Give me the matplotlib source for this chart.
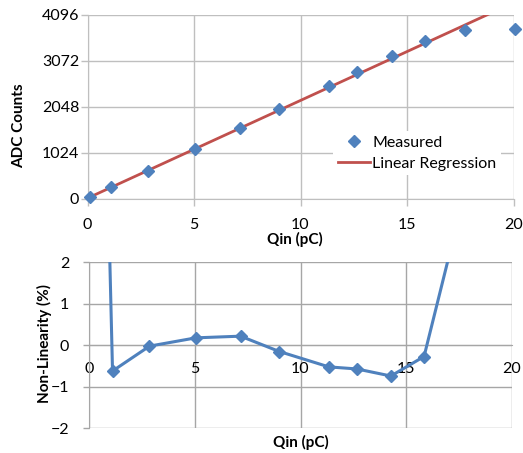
import matplotlib
matplotlib.use("Agg")
import matplotlib.pyplot as plt
from matplotlib.lines import Line2D

plt.rcParams['font.family'] = ['Lato', 'DejaVu Sans']
plt.rcParams['font.size'] = 11.5

# datos
qin = [0.12, 1.10, 2.85, 5.05, 7.16, 9.00, 11.34, 12.67, 14.28, 15.85, 17.74, 20.08]
adc = [38, 260, 622, 1110, 1583, 1991, 2509, 2820, 3175, 3508, 3752, 3781]
no_lineal = [19.7, -0.62, -0.02, 0.18, 0.22, -0.15, -0.52, -0.57, -0.74, -0.27, 3.6, 8.0]

# extremos de la recta de regresion
ajuste_x = [0.12, 20.08]
ajuste_y = [44, 4375]

x_ticks = [0, 5, 10, 15, 20]
adc_ticks = [0, 1024, 2048, 3072, 4096]
nl_ticks = [-2, -1, 0, 1, 2]

azul = '#4F81BD'
rojo = '#C0504D'
gris = '#BFBFBF'
gris2 = '#A6A6A6'
tam_eje = 11

W, H = 523, 453
fig = plt.figure(figsize=(W / 100, H / 100), dpi=100)

# panel superior
ax1 = fig.add_axes([87.5 / W, 1 - 199 / H, 426 / W, 184.5 / H])
ax1.plot(ajuste_x, ajuste_y, color=rojo, lw=2.0, zorder=3)
ax1.plot(qin, adc, 'D', color=azul, ms=6, clip_on=False, zorder=4)
ax1.set_xlim(0, 20)
ax1.set_ylim(0, 4096)
ax1.set_xticks(x_ticks)
ax1.set_yticks(adc_ticks)
ax1.grid(True, color=gris, lw=1)
for s in ax1.spines.values():
    s.set_visible(False)
ax1.spines['left'].set_visible(True)
ax1.spines['left'].set_color(gris)
ax1.spines['bottom'].set_visible(True)
ax1.spines['bottom'].set_color(gris)
ax1.tick_params(axis='both', color=gris, length=5, width=1)
ax1.tick_params(axis='y', pad=1)
ax1.tick_params(axis='x', pad=9)
ax1.set_ylabel('ADC Counts', fontweight='bold', fontsize=tam_eje, va='center', ha='center')
ax1.yaxis.set_label_coords(-0.161, 0.396)
ax1.set_xlabel('Qin (pC)', fontweight='bold', fontsize=tam_eje, va='center', ha='center')
ax1.xaxis.set_label_coords(0.486, -0.217)

handles = [Line2D([], [], ls='none', marker='D', color=azul, ms=6),
           Line2D([], [], color=rojo, lw=2.0)]
leg = ax1.legend(handles, ['Measured', 'Linear Regression'], loc='upper left',
                 bbox_to_anchor=(0.576, 0.368), frameon=True, fancybox=False,
                 edgecolor='none', facecolor='white', framealpha=1,
                 handlelength=2.0, handletextpad=0.15, labelspacing=0.4,
                 borderpad=0.3, borderaxespad=0)

# panel inferior
ax2 = fig.add_axes([89.3 / W, 1 - 428.3 / H, 422.4 / W, 166 / H])
ax2.plot(qin, no_lineal, '-D', color=azul, lw=2.2, ms=6, zorder=3)
ax2.set_xlim(0, 20)
ax2.set_ylim(-2, 2)
ax2.set_xticks(x_ticks)
ax2.set_yticks(nl_ticks)
ax2.grid(True, color=gris2, lw=1)
for s in ax2.spines.values():
    s.set_visible(False)
ax2.spines['left'].set_visible(True)
ax2.spines['left'].set_color(gris2)
ax2.spines['bottom'].set_visible(True)
ax2.spines['bottom'].set_position(('data', 0))
ax2.spines['bottom'].set_color(gris2)
ax2.tick_params(axis='y', color=gris2, length=4, width=1, pad=10.5)
ax2.tick_params(axis='x', length=0, pad=12)
ax2.set_ylabel('Non-Linearity (%)', fontweight='bold', fontsize=tam_eje, va='center', ha='center')
ax2.yaxis.set_label_coords(-0.107, 0.508)
ax2.set_xlabel('Qin (pC)', fontweight='bold', fontsize=tam_eje, va='center', ha='center')
ax2.xaxis.set_label_coords(0.5, -0.088)

fig.savefig('out.png', dpi=100)
